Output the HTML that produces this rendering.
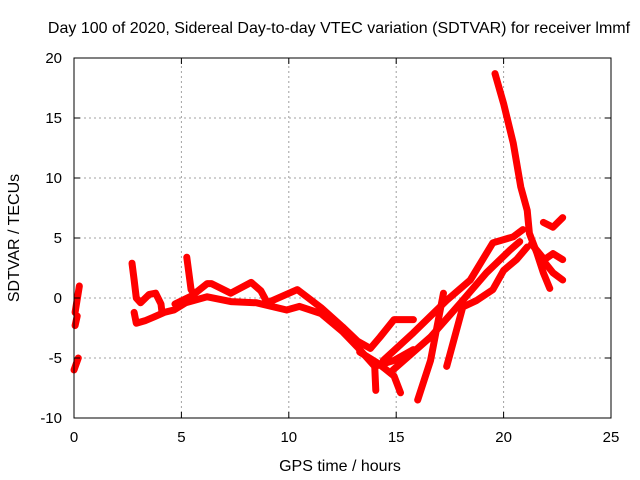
<!DOCTYPE html>
<html><head><meta charset="utf-8"><style>
body{margin:0;background:#fff;}
svg{display:block;font-family:"Liberation Sans",sans-serif;}
</style></head><body>
<svg id="chart" width="640" height="480">
<text x="339" y="33" font-size="16" text-anchor="middle">Day 100 of 2020, Sidereal Day-to-day VTEC variation (SDTVAR) for receiver lmmf</text>
<text x="340" y="471" font-size="16" text-anchor="middle">GPS time / hours</text>
<text transform="translate(19,238) rotate(-90)" font-size="16" text-anchor="middle">SDTVAR / TECUs</text>
<g id="grid"></g><g id="series"></g><g id="axes"></g>
</svg>
<script>
const xTicks=[0,5,10,15,20,25];
const yTicks=[-10,-5,0,5,10,15,20];
const trace1=[[0.05,-1.2],[0.25,1.0]];
const trace2=[[0.05,-2.3],[0.15,-1.5]];
const trace3=[[0.0,-6],[0.2,-5]];
const trace4=[[2.7,2.9],[2.8,1.5],[2.9,0],[3.1,-0.4],[3.5,0.3],[3.8,0.4],[4.05,-0.5],[4.1,-1.25]];
const trace5=[[2.8,-1.2],[2.9,-2.1],[3.3,-1.9],[3.7,-1.6],[4.2,-1.2],[4.65,-1.0],[5.2,-0.4],[6.2,0.1],[7.3,-0.3],[8.5,-0.4],[9.9,-1.0],[10.5,-0.7],[11.5,-1.3],[12.5,-2.8],[13.2,-4.1],[14.0,-5.7],[14.05,-7.7]];
const trace6=[[5.25,3.4],[5.45,0.7],[5.6,0.3]];
const trace7=[[4.7,-0.5],[5.5,0.2],[6.2,1.2],[6.4,1.2],[7.3,0.4],[8.25,1.3],[8.7,0.6],[9,-0.4],[10.4,0.7],[11.5,-0.8],[12.5,-2.4],[13.2,-3.6],[13.8,-4.2],[14.25,-3.25],[14.9,-1.8],[15.8,-1.8]];
const trace8=[[13.3,-4.5],[14.2,-5.5],[14.9,-6.5],[15.2,-7.9]];
const trace9=[[14.4,-5.2],[15.8,-2.9],[17.35,-0.2],[18.45,1.5],[19.5,4.6],[20.45,5.1],[20.9,5.7]];
const trace10=[[14.85,-6.0],[16.6,-3.25],[18.0,-0.4],[19.2,2.1],[20.3,4.0],[20.75,4.7]];
const trace11=[[16.0,-8.5],[16.6,-5.2],[17.2,0.4]];
const trace12=[[17.35,-5.7],[18.1,-0.75],[18.75,-0.2],[19.5,0.7],[20.0,2.3],[20.6,3.2],[21.1,4.25]];
const trace13=[[14.0,-5.7],[14.9,-5.2],[15.8,-4.3]];
const trace14=[[19.6,18.7],[20.0,16.2],[20.45,12.9],[20.8,9.25],[21.1,7.3],[21.2,5.4],[21.55,3.75],[21.85,2.1],[22.15,0.8]];
const trace15=[[21.3,4.5],[21.9,3.2],[22.3,3.7],[22.75,3.2]];
const trace16=[[21.9,3.0],[22.3,2.1],[22.75,1.5]];
const trace17=[[21.85,6.3],[22.3,5.9],[22.75,6.7]];
const traces=[trace1,trace2,trace3,trace4,trace5,trace6,trace7,trace8,trace9,trace10,trace11,trace12,trace13,trace14,trace15,trace16,trace17];
const X0=74,X1=611,Y0=418,Y1=58;
function xs(v){return X0+(v-0)/25*(X1-X0);}
function ys(v){return Y0-(v+10)/30*(Y0-Y1);}
const NS="http://www.w3.org/2000/svg";
const grid=document.getElementById('grid'),axes=document.getElementById('axes'),ser=document.getElementById('series');
function mk(tag,attrs,parent){const e=document.createElementNS(NS,tag);for(const k in attrs)e.setAttribute(k,attrs[k]);parent.appendChild(e);return e;}
xTicks.forEach(t=>{
  const x=xs(t);
  if(t>0&&t<25){const g=mk('line',{x1:x,x2:x,y1:Y0,y2:Y1,stroke:'#a0a0a0','stroke-dasharray':'2,3','stroke-width':1},grid);
  
  }
  mk('line',{x1:x,x2:x,y1:Y0,y2:Y0-6,stroke:'#000'},axes);
  mk('line',{x1:x,x2:x,y1:Y1,y2:Y1+6,stroke:'#000'},axes);
  const l=mk('text',{x:x,y:Y0+24,'font-size':15,'text-anchor':'middle'},axes);l.textContent=t;
  
  
});
yTicks.forEach(t=>{
  const y=ys(t);
  if(t>-10&&t<20){const g=mk('line',{x1:X0,x2:X1,y1:y,y2:y,stroke:'#a0a0a0','stroke-dasharray':'2,3','stroke-width':1},grid);
  
  }
  mk('line',{x1:X0,x2:X0+6,y1:y,y2:y,stroke:'#000'},axes);
  mk('line',{x1:X1,x2:X1-6,y1:y,y2:y,stroke:'#000'},axes);
  const l=mk('text',{x:X0-12,y:y+5,'font-size':15,'text-anchor':'end'},axes);l.textContent=t;
  
  
});
const fr=mk('rect',{x:X0,y:Y1,width:X1-X0,height:Y0-Y1,fill:'none',stroke:'#000'},axes);


traces.forEach((tr,i)=>{
  const p=mk('polyline',{points:tr.map(d=>xs(d[0])+','+ys(d[1])).join(' '),fill:'none',stroke:'#ff0000','stroke-width':7,'stroke-linejoin':'round','stroke-linecap':'round'},ser);
  
  
});
</script>
</body></html>
